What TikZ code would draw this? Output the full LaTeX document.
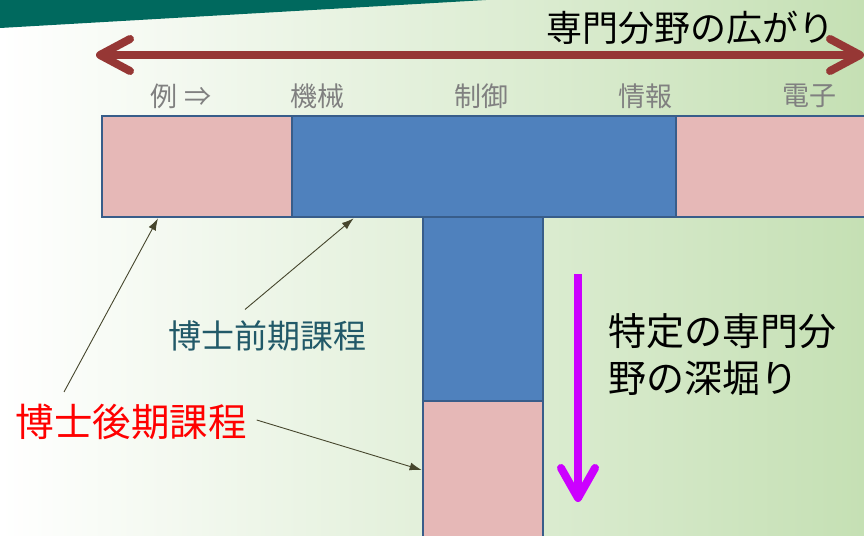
\documentclass[tikz,border=0pt]{standalone}
\usepackage{fontspec}
\setmainfont{Noto Sans CJK JP}
\usetikzlibrary{arrows.meta,calc}
\definecolor{banner}{RGB}{0,105,94}
\definecolor{bgend}{RGB}{197,224,180}
\definecolor{widearrow}{RGB}{150,55,53}
\definecolor{deeparrow}{RGB}{204,0,255}
\definecolor{pinkfill}{RGB}{230,184,183}
\definecolor{bluefill}{RGB}{79,129,189}
\definecolor{boxline}{RGB}{56,93,138}
\definecolor{pointer}{RGB}{70,70,45}
\definecolor{earlytext}{RGB}{33,89,104}
\definecolor{fieldtext}{RGB}{128,128,128}
\tikzset{
    course/.style={draw=boxline, line width=2.7pt, inner sep=0pt},
    pinkbox/.style={course, fill=pinkfill},
    bluebox/.style={course, fill=bluefill},
    field/.style={text=fieldtext, inner sep=0pt, font=\fontsize{27}{30}\selectfont},
    pointto/.style={draw=pointer, line width=0.9pt, -{Latex[length=12pt,width=8pt]}},
    bigarrow/.style={line width=8pt, {Straight Barb[length=30pt,width=32pt,round]}-{Straight Barb[length=30pt,width=32pt,round]}},
    deeparrowstyle/.style={draw=deeparrow, line width=8pt, -{Straight Barb[length=30pt,width=34pt,round]}},
}
\begin{document}
\begin{tikzpicture}[x=1pt,y=-1pt]
    \useasboundingbox (0,0) rectangle (864,535);
    \clip (0,0) rectangle (864,535);
    % background and banner
    \shade[left color=white, right color=bgend] (0,0) rectangle (864,535);
    \fill[banner] (0,0) -- (486,0) -- (0,28) -- cycle;
    % wide arrow and title
    \coordinate (wl) at (96,55);
    \coordinate (wr) at (864,55);
    \draw[bigarrow, widearrow] (wl) -- (wr);
    \node[inner sep=0pt, font=\fontsize{36}{40}\selectfont] (title) at (690,28) {専門分野の広がり};
    % field names
    \node[field] (ex) at (181,96) {例 ⇒};
    \foreach \name [count=\i from 0] in {機械,制御,情報,電子}
        \node[field] (f\i) at (317+164*\i,96) {\name};
    % the T
    \node[pinkbox, minimum width=190pt, minimum height=101pt] (lpink) at (197,166.5) {};
    \node[bluebox, minimum width=384pt, minimum height=101pt] (tblue) at (484,166.5) {};
    \node[pinkbox, minimum width=210pt, minimum height=101pt] (rpink) at (781,166.5) {};
    \node[bluebox, minimum width=120pt, minimum height=184pt] (sblue) at (483,309) {};
    \node[pinkbox, minimum width=120pt, minimum height=160pt] (spink) at (483,481) {};
    % deep arrow and text
    \coordinate (dt) at (578,274);
    \coordinate (db) at (578,502);
    \draw[deeparrowstyle] (dt) -- (db);
    \node[anchor=west, align=left, inner sep=0pt, font=\fontsize{38}{47}\selectfont] (deep) at (608,355) {特定の専門分\\野の深堀り};
    % course labels
    \node[text=earlytext, inner sep=0pt, font=\fontsize{33}{36}\selectfont] (early) at (267,336) {博士前期課程};
    \node[text=red, inner sep=0pt, font=\fontsize{38.5}{42}\selectfont] (late) at (131,422) {博士後期課程};
    \draw[pointto] ([xshift=-22pt,yshift=11pt]early.north) -- ([xshift=63pt]tblue.south west);
    \draw[pointto] ([xshift=-67pt,yshift=12pt]late.north) -- ([xshift=-39pt]lpink.south);
    \draw[pointto] ([xshift=10pt,yshift=2pt]late.east) -- ([yshift=11pt]spink.west);
\end{tikzpicture}
\end{document}
